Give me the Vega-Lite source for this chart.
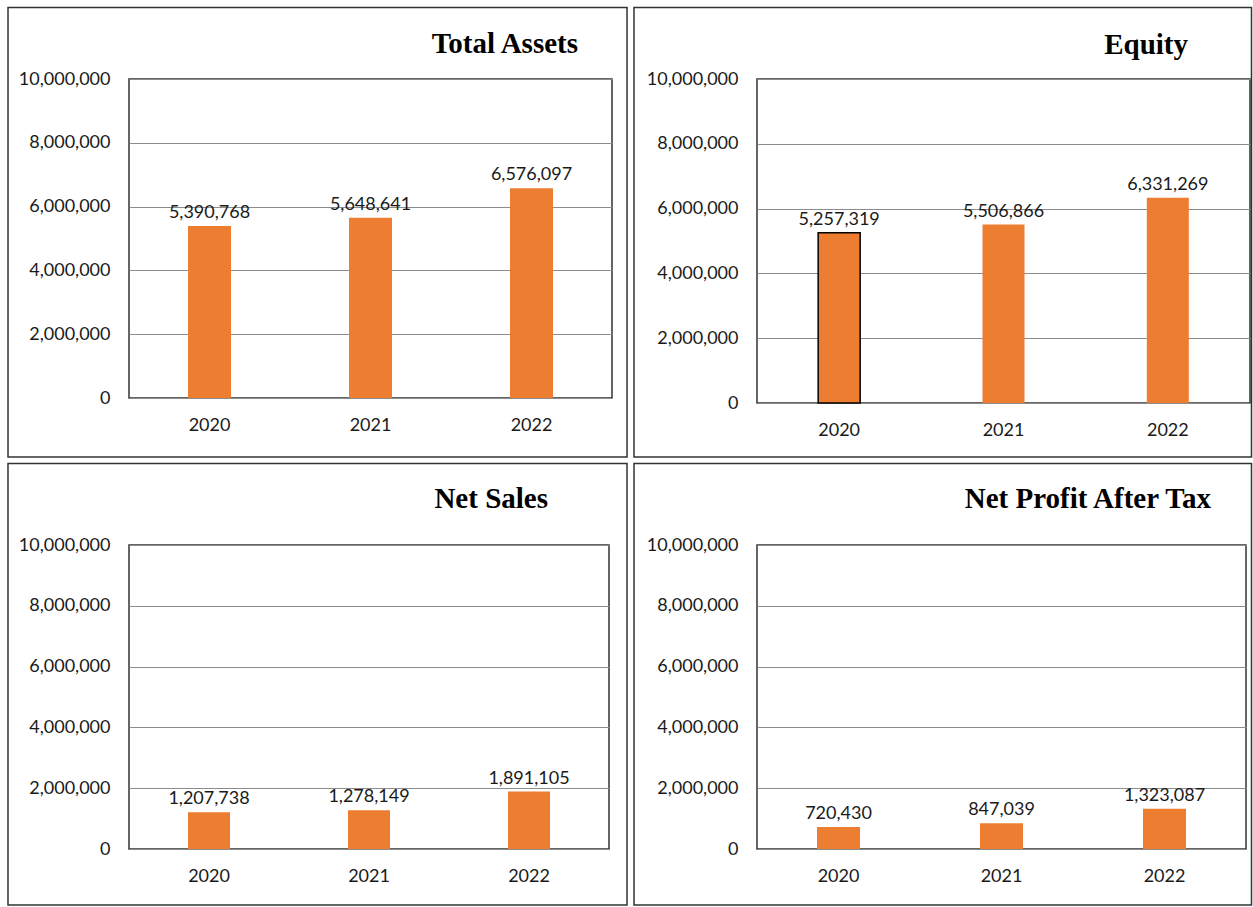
{
  "$schema": "https://vega.github.io/schema/vega-lite/v6.json",
  "padding": {"left": 6, "top": 5, "right": 0, "bottom": 0},
  "background": "white",
  "data": {"values": [
    {"metric": "Total Assets", "year": "2020", "value": 5390768},
    {"metric": "Total Assets", "year": "2021", "value": 5648641},
    {"metric": "Total Assets", "year": "2022", "value": 6576097},
    {"metric": "Equity", "year": "2020", "value": 5257319},
    {"metric": "Equity", "year": "2021", "value": 5506866},
    {"metric": "Equity", "year": "2022", "value": 6331269},
    {"metric": "Net Sales", "year": "2020", "value": 1207738},
    {"metric": "Net Sales", "year": "2021", "value": 1278149},
    {"metric": "Net Sales", "year": "2022", "value": 1891105},
    {"metric": "Net Profit After Tax", "year": "2020", "value": 720430},
    {"metric": "Net Profit After Tax", "year": "2021", "value": 847039},
    {"metric": "Net Profit After Tax", "year": "2022", "value": 1323087}
  ]},
  "config": {
    "font": "Lato",
    "view": {"stroke": "#333333", "strokeWidth": 1.5},
    "axis": {"labelFont": "Lato", "labelFontSize": 18, "labelColor": "#1a1a1a", "ticks": false, "domain": false, "title": null},
    "axisY": {"grid": true, "gridColor": "#8c8c8c", "gridWidth": 1, "labelPadding": 19},
    "axisX": {"grid": false, "labelAngle": 0, "labelPadding": 18},
    "title": {"font": "Liberation Serif", "fontSize": 29, "fontWeight": "bold", "color": "#000000", "anchor": "end", "frame": "group", "baseline": "alphabetic"}
  },
  "spacing": 3,
  "vconcat": [
    {"spacing": 3, "hconcat": [
      {
        "width": 483, "height": 319,
        "title": {"text": "Total Assets", "dx": -34, "offset": -52.25},
        "transform": [{"filter": "datum.metric === 'Total Assets'"}],
        "layer": [
          {"data": {"values": [{}]}, "mark": {"type": "rect", "fill": "transparent", "stroke": "#333333", "strokeWidth": 1.5},
           "encoding": {"x": {"datum": -0.2505, "type": "quantitative", "scale": {"domain": [0, 1], "nice": false}, "axis": null}, "x2": {"datum": 1.0311},
                        "y": {"datum": 12241400, "type": "quantitative", "scale": {"domain": [0, 10000000], "nice": false}}, "y2": {"datum": -1849500}}},
          {"mark": {"type": "bar", "color": "#ED7D31", "size": 43},
           "encoding": {"x": {"field": "year", "type": "nominal", "scale": {"paddingInner": 0, "paddingOuter": 0}},
                        "y": {"field": "value", "type": "quantitative", "scale": {"domain": [0, 10000000], "nice": false}, "axis": {"values": [0, 2000000, 4000000, 6000000, 8000000, 10000000], "format": ",d", "grid": true}}}},
          {"mark": {"type": "text", "baseline": "alphabetic", "dy": -8, "fontSize": 18, "color": "#1a1a1a"},
           "encoding": {"x": {"field": "year", "type": "nominal", "scale": {"paddingInner": 0, "paddingOuter": 0}, "axis": null},
                        "y": {"field": "value", "type": "quantitative", "scale": {"domain": [0, 10000000], "nice": false}},
                        "text": {"field": "value", "format": ",d"}}}
        ],
        "resolve": {"scale": {"x": "independent"}}
      },
      {
        "width": 493, "height": 324,
        "title": {"text": "Equity", "dx": -62, "offset": -53.25},
        "transform": [{"filter": "datum.metric === 'Equity'"}],
        "layer": [
          {"data": {"values": [{}]}, "mark": {"type": "rect", "fill": "transparent", "stroke": "#333333", "strokeWidth": 1.5},
           "encoding": {"x": {"datum": -0.2495, "type": "quantitative", "scale": {"domain": [0, 1], "nice": false}, "axis": null}, "x2": {"datum": 1.00304},
                        "y": {"datum": 12206800, "type": "quantitative", "scale": {"domain": [0, 10000000], "nice": false}}, "y2": {"datum": -1666700}}},
          {"mark": {"type": "bar", "color": "#ED7D31", "size": 42, "strokeWidth": 1.5},
           "encoding": {"x": {"field": "year", "type": "nominal", "scale": {"paddingInner": 0, "paddingOuter": 0}},
                        "y": {"field": "value", "type": "quantitative", "scale": {"domain": [0, 10000000], "nice": false}, "axis": {"values": [0, 2000000, 4000000, 6000000, 8000000, 10000000], "format": ",d", "grid": true}},
                        "stroke": {"condition": {"test": "datum.year === '2020'", "value": "#000000"}, "value": "transparent"}}},
          {"mark": {"type": "text", "baseline": "alphabetic", "dy": -8, "fontSize": 18, "color": "#1a1a1a"},
           "encoding": {"x": {"field": "year", "type": "nominal", "scale": {"paddingInner": 0, "paddingOuter": 0}, "axis": null},
                        "y": {"field": "value", "type": "quantitative", "scale": {"domain": [0, 10000000], "nice": false}},
                        "text": {"field": "value", "format": ",d"}}}
        ],
        "resolve": {"scale": {"x": "independent"}}
      }
    ]},
    {"spacing": 3, "hconcat": [
      {
        "width": 480, "height": 304,
        "title": {"text": "Net Sales", "dx": -61, "offset": -51.25},
        "transform": [{"filter": "datum.metric === 'Net Sales'"}],
        "layer": [
          {"data": {"values": [{}]}, "mark": {"type": "rect", "fill": "transparent", "stroke": "#333333", "strokeWidth": 1.5},
           "encoding": {"x": {"datum": -0.2521, "type": "quantitative", "scale": {"domain": [0, 1], "nice": false}, "axis": null}, "x2": {"datum": 1.0375},
                        "y": {"datum": 12680900, "type": "quantitative", "scale": {"domain": [0, 10000000], "nice": false}}, "y2": {"datum": -1842100}}},
          {"mark": {"type": "bar", "color": "#ED7D31", "size": 42},
           "encoding": {"x": {"field": "year", "type": "nominal", "scale": {"paddingInner": 0, "paddingOuter": 0}},
                        "y": {"field": "value", "type": "quantitative", "scale": {"domain": [0, 10000000], "nice": false}, "axis": {"values": [0, 2000000, 4000000, 6000000, 8000000, 10000000], "format": ",d", "grid": true}}}},
          {"mark": {"type": "text", "baseline": "alphabetic", "dy": -8, "fontSize": 18, "color": "#1a1a1a"},
           "encoding": {"x": {"field": "year", "type": "nominal", "scale": {"paddingInner": 0, "paddingOuter": 0}, "axis": null},
                        "y": {"field": "value", "type": "quantitative", "scale": {"domain": [0, 10000000], "nice": false}},
                        "text": {"field": "value", "format": ",d"}}}
        ],
        "resolve": {"scale": {"x": "independent"}}
      },
      {
        "width": 489, "height": 304,
        "title": {"text": "Net Profit After Tax", "dx": -35, "offset": -51.25},
        "transform": [{"filter": "datum.metric === 'Net Profit After Tax'"}],
        "layer": [
          {"data": {"values": [{}]}, "mark": {"type": "rect", "fill": "transparent", "stroke": "#333333", "strokeWidth": 1.5},
           "encoding": {"x": {"datum": -0.2515, "type": "quantitative", "scale": {"domain": [0, 1], "nice": false}, "axis": null}, "x2": {"datum": 1.01125},
                        "y": {"datum": 12680900, "type": "quantitative", "scale": {"domain": [0, 10000000], "nice": false}}, "y2": {"datum": -1842100}}},
          {"mark": {"type": "bar", "color": "#ED7D31", "size": 43},
           "encoding": {"x": {"field": "year", "type": "nominal", "scale": {"paddingInner": 0, "paddingOuter": 0}},
                        "y": {"field": "value", "type": "quantitative", "scale": {"domain": [0, 10000000], "nice": false}, "axis": {"values": [0, 2000000, 4000000, 6000000, 8000000, 10000000], "format": ",d", "grid": true}}}},
          {"mark": {"type": "text", "baseline": "alphabetic", "dy": -8, "fontSize": 18, "color": "#1a1a1a"},
           "encoding": {"x": {"field": "year", "type": "nominal", "scale": {"paddingInner": 0, "paddingOuter": 0}, "axis": null},
                        "y": {"field": "value", "type": "quantitative", "scale": {"domain": [0, 10000000], "nice": false}},
                        "text": {"field": "value", "format": ",d"}}}
        ],
        "resolve": {"scale": {"x": "independent"}}
      }
    ]}
  ]
}
